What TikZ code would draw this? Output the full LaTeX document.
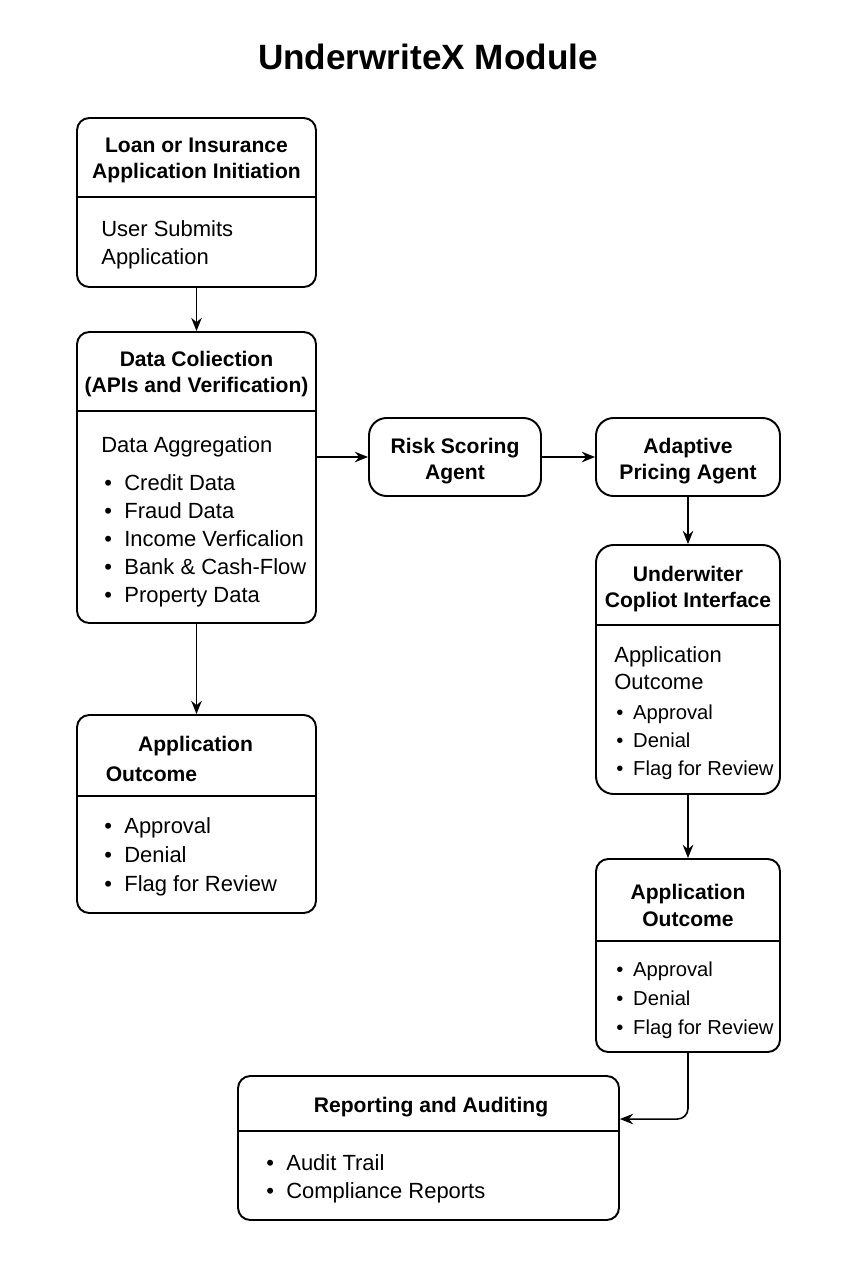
\documentclass[tikz,border=0pt]{standalone}
\usepackage{fontspec}
\setmainfont{Liberation Sans}
\usetikzlibrary{positioning,calc,arrows.meta}

\newcommand{\bul}[1]{\makebox[11.4pt][l]{\textbullet}#1}
\newcommand{\sbul}[1]{\makebox[9.6pt][l]{\textbullet}#1}
\newcommand{\dn}[1]{\raisebox{-2.2pt}[\height][\depth]{#1}}

\begin{document}
\begin{tikzpicture}[
    box/.style={draw, line width=1.1pt, rounded corners=7pt, minimum width=4.78cm},
    head/.style={font=\fontsize{12}{15}\selectfont\bfseries, align=center},
    txt/.style={yshift=-0.05cm},
    body/.style={font=\fontsize{12.5}{16}\selectfont, align=left, anchor=west, inner sep=0pt, yshift=-0.05cm},
    rule/.style={line width=1.1pt},
    arr/.style={-{Stealth[length=7.5pt,width=6pt]}, line width=0.9pt}
]
    \useasboundingbox (0,0) rectangle (17.06,-25.6);
    \node[font=\fontsize{20}{24}\selectfont\bfseries] (title) at (8.56,-1.14) {UnderwriteX Module};

    % Application initiation
    \node[box, minimum height=3.38cm] (init) at (3.93,-4.05) {};
    \draw[rule] ([yshift=-1.6cm]init.north west) -- ([yshift=-1.6cm]init.north east);
    \node[head, txt] (inithead) at (3.93,-3.16) {Loan or Insurance\\Application Initiation};
    \node[body] (initbody) at (2.02,-4.84) {User Submits\\Application};

    % Data collection
    \node[box, minimum height=5.82cm] (data) at (3.93,-9.55) {};
    \draw[rule] ([yshift=-1.6cm]data.north west) -- ([yshift=-1.6cm]data.north east);
    \node[head, txt] (datahead) at (3.93,-7.43) {Data Coliection\\(APIs and Verification)};
    \node[body] (agg) at (2.02,-8.88) {Data Aggregation};
    \node[body, font=\fontsize{12.5}{15.9}\selectfont] (datalist) at (2.08,-10.76)
        {\bul{Credit Data}\\\bul{Fraud Data}\\\bul{Income Verficalion}\\\bul{Bank \& Cash-Flow}\\\bul{Property Data}};

    % Outcome (left)
    \node[box, minimum height=3.96cm] (outl) at (3.93,-16.28) {};
    \draw[rule] ([yshift=-1.64cm]outl.north west) -- ([yshift=-1.64cm]outl.north east);
    \node[head, txt] (outlhead) at (3.91,-14.88) {Application};
    \node[head, txt] (outlhead2) at (3.03,-15.44) {Outcome};
    \node[body, font=\fontsize{12.5}{16.5}\selectfont] (outllist) at (2.08,-17.08)
        {\bul{Approval}\\\bul{Denial}\\\bul{Flag for Review}};

    % Agents
    \node[box, minimum width=3.44cm, minimum height=1.56cm, head, rounded corners=10pt] (risk) at (9.10,-9.14) {\dn{Risk Scoring}\\\dn{Agent}};
    \node[box, minimum width=3.68cm, minimum height=1.56cm, head, rounded corners=10pt] (price) at (13.76,-9.14) {\dn{Adaptive}\\\dn{Pricing Agent}};

    % Copilot interface
    \node[box, minimum width=3.68cm, minimum height=4.98cm, rounded corners=10pt] (copilot) at (13.76,-13.39) {};
    \draw[rule] ([yshift=-1.62cm]copilot.north west) -- ([yshift=-1.62cm]copilot.north east);
    \node[head, txt] (cophead) at (13.76,-11.73) {Underwiter\\Copliot Interface};
    \node[body, font=\fontsize{12.5}{15.4}\selectfont] (copbody) at (12.28,-13.31) {Application\\Outcome};
    \node[body, font=\fontsize{11.5}{15.9}\selectfont] (coplist) at (12.32,-14.79)
        {\sbul{Approval}\\\sbul{Denial}\\\sbul{Flag for Review}};

    % Outcome (right)
    \node[box, minimum width=3.68cm, minimum height=3.86cm] (outr) at (13.76,-19.11) {};
    \draw[rule] ([yshift=-1.66cm]outr.north west) -- ([yshift=-1.66cm]outr.north east);
    \node[head, txt] (outrhead) at (13.76,-18.06) {Application\\Outcome};
    \node[body, font=\fontsize{11.5}{16.5}\selectfont] (outrlist) at (12.32,-19.96)
        {\sbul{Approval}\\\sbul{Denial}\\\sbul{Flag for Review}};

    % Reporting
    \node[box, minimum width=7.62cm, minimum height=2.88cm] (report) at (8.57,-22.96) {};
    \draw[rule] ([yshift=-1.12cm]report.north west) -- ([yshift=-1.12cm]report.north east);
    \node[head, txt] (rephead) at (8.62,-22.10) {Reporting and Auditing};
    \node[body] (replist) at (5.32,-23.52) {\bul{Audit Trail}\\\bul{Compliance Reports}};

    % Flow
    \draw[arr] (init) -- (data);
    \draw[arr] (risk.west -| data.east) -- (risk.west);
    \draw[arr] (risk) -- (price);
    \draw[arr] (price) -- (copilot);
    \draw[arr] (data) -- (outl);
    \draw[arr] (copilot) -- (outr);
    \draw[arr, rounded corners=6pt] (outr.south) |- ([yshift=-0.88cm]report.north east);
\end{tikzpicture}
\end{document}
